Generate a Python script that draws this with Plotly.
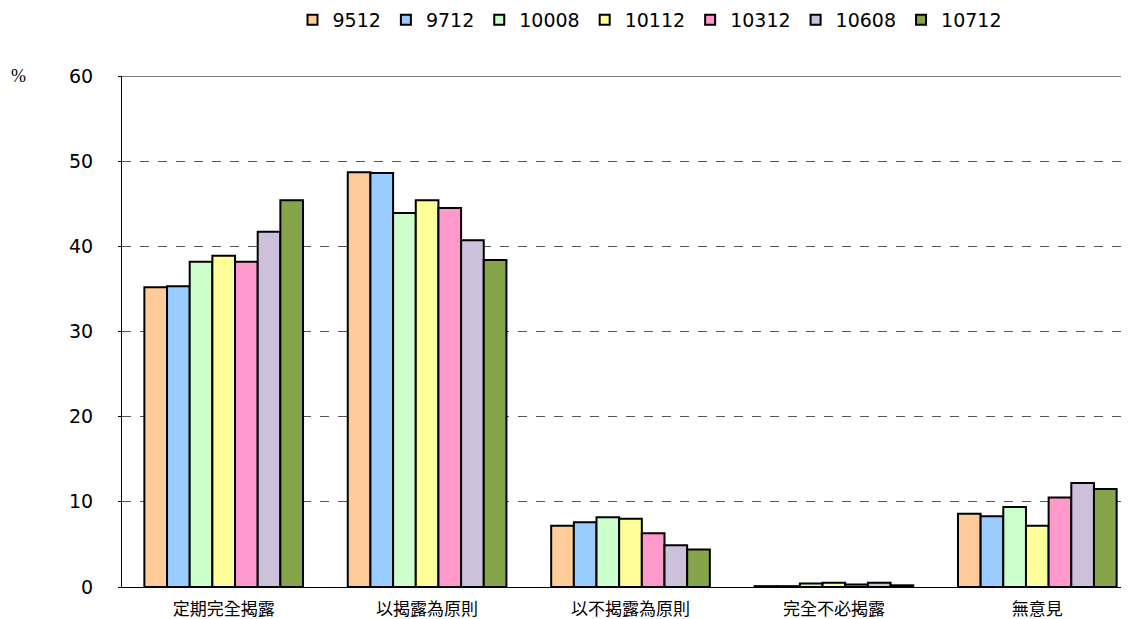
import plotly.graph_objects as go

categories = ["定期完全揭露", "以揭露為原則", "以不揭露為原則", "完全不必揭露", "無意見"]
series_names = ["9512", "9712", "10008", "10112", "10312", "10608", "10712"]
values = {
    "9512":  [35.2, 48.7, 7.2, 0.1, 8.6],
    "9712":  [35.3, 48.6, 7.6, 0.1, 8.3],
    "10008": [38.2, 43.9, 8.2, 0.4, 9.4],
    "10112": [38.9, 45.4, 8.0, 0.5, 7.2],
    "10312": [38.2, 44.5, 6.3, 0.3, 10.5],
    "10608": [41.7, 40.7, 4.9, 0.5, 12.2],
    "10712": [45.4, 38.4, 4.4, 0.2, 11.5],
}
colors = ["#FFCC99", "#99CCFF", "#CCFFCC", "#FFFF99", "#FF99CC", "#CCC0DA", "#86A44A"]
y_ticks = [0, 10, 20, 30, 40, 50, 60]

fig = go.Figure()
for name, col in zip(series_names, colors):
    fig.add_trace(go.Bar(
        name=name, x=categories, y=values[name], showlegend=False, legendgroup=name,
        marker=dict(color=col, line=dict(color="black", width=2)),
    ))
# legend entries with small square swatches
for name, col in zip(series_names, colors):
    fig.add_trace(go.Scatter(
        name=name, x=[None], y=[None], mode="markers", legendgroup=name,
        marker=dict(symbol="square", size=10, color=col, line=dict(color="black", width=2)),
    ))

fig.update_layout(
    width=1134, height=611,
    barmode="group", bargap=0.22, bargroupgap=0,
    plot_bgcolor="white", paper_bgcolor="white",
    margin=dict(l=114, r=3, t=68, b=32, autoexpand=False),
    font=dict(family="DejaVu Sans, Liberation Sans, sans-serif", size=16, color="black"),
    legend=dict(orientation="h", x=0.5187, xanchor="center", y=0.9804, yref="container",
                yanchor="middle", font=dict(size=19), itemwidth=30, tracegroupgap=0),
    showlegend=True,
)
fig.update_xaxes(
    showline=True, linecolor="black", linewidth=1,
    ticks="", tickfont=dict(family="Noto Sans CJK TC", size=17),
    ticklabelstandoff=7,
)
fig.update_yaxes(
    range=[0, 60], tickvals=y_ticks, showgrid=True, gridcolor="#555555",
    griddash="dash", gridwidth=1, zeroline=False,
    showline=True, linecolor="black", linewidth=1,
    ticks="outside", ticklen=3, tickcolor="black",
    ticklabelstandoff=21, tickfont=dict(family="DejaVu Sans", size=19),
)
fig.add_shape(type="line", xref="paper", yref="y", x0=0, x1=1, y0=y_ticks[-1], y1=y_ticks[-1],
              line=dict(color="black", width=1))
fig.add_annotation(text="%", xref="paper", yref="paper", x=-0.102, y=1.0, xanchor="center",
                   yanchor="middle", showarrow=False, font=dict(size=18, family="Liberation Serif"))

fig.write_html("out.html")
